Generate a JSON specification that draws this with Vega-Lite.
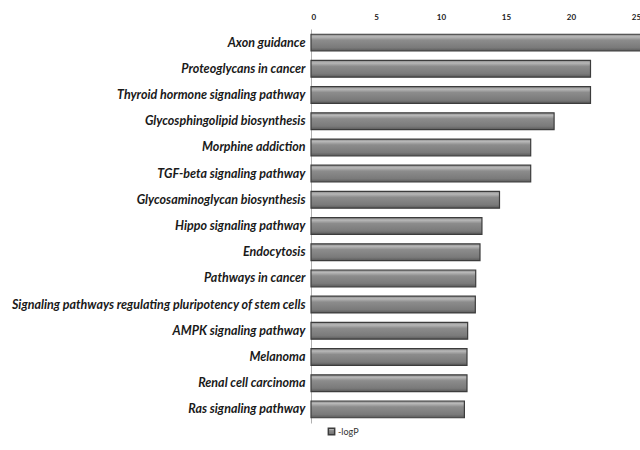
{
  "$schema": "https://vega.github.io/schema/vega-lite/v6.json",
  "autosize": "none",
  "width": 390,
  "height": 394,
  "padding": {"left": 311, "top": 29, "right": 0, "bottom": 27},
  "background": "white",
  "data": {
    "values": [
      {"pathway": "Axon guidance", "value": 27.0, "series": "-logP"},
      {"pathway": "Proteoglycans in cancer", "value": 21.5, "series": "-logP"},
      {"pathway": "Thyroid hormone signaling pathway", "value": 21.5, "series": "-logP"},
      {"pathway": "Glycosphingolipid biosynthesis", "value": 18.7, "series": "-logP"},
      {"pathway": "Morphine addiction", "value": 16.9, "series": "-logP"},
      {"pathway": "TGF-beta signaling pathway", "value": 16.9, "series": "-logP"},
      {"pathway": "Glycosaminoglycan biosynthesis", "value": 14.5, "series": "-logP"},
      {"pathway": "Hippo signaling pathway", "value": 13.15, "series": "-logP"},
      {"pathway": "Endocytosis", "value": 13.0, "series": "-logP"},
      {"pathway": "Pathways in cancer", "value": 12.67, "series": "-logP"},
      {"pathway": "Signaling pathways regulating pluripotency of stem cells", "value": 12.64, "series": "-logP"},
      {"pathway": "AMPK signaling pathway", "value": 12.05, "series": "-logP"},
      {"pathway": "Melanoma", "value": 12.0, "series": "-logP"},
      {"pathway": "Renal cell carcinoma", "value": 12.0, "series": "-logP"},
      {"pathway": "Ras signaling pathway", "value": 11.8, "series": "-logP"}
    ]
  },
  "mark": {
    "type": "bar",
    "fill": {
      "gradient": "linear",
      "x1": 0, "y1": 0, "x2": 0, "y2": 1,
      "stops": [
        {"offset": 0, "color": "#8a8a8a"},
        {"offset": 0.15, "color": "#b8b8b8"},
        {"offset": 0.35, "color": "#8c8c8c"},
        {"offset": 0.8, "color": "#7a7a7a"},
        {"offset": 1, "color": "#5a5a5a"}
      ]
    },
    "strokeWidth": 1.2,
    "fillOpacity": 1
  },
  "encoding": {
    "y": {
      "field": "pathway",
      "type": "nominal",
      "sort": null,
      "scale": {"paddingInner": 0.36, "paddingOuter": 0.2},
      "axis": {
        "title": null,
        "ticks": false,
        "domain": true,
        "domainColor": "#b0b0b0",
        "labelFont": "Lato",
        "labelFontStyle": "italic",
        "labelFontWeight": "bold",
        "labelFontSize": 12.5,
        "labelColor": "#1a1a1a",
        "labelPadding": 6,
        "labelLimit": 400
      }
    },
    "x": {
      "field": "value",
      "type": "quantitative",
      "scale": {"domain": [0, 30], "nice": false},
      "axis": {
        "orient": "top",
        "title": null,
        "values": [0, 5, 10, 15, 20, 25, 30],
        "grid": false,
        "ticks": false,
        "domain": false,
        "labelFont": "Lato",
        "labelFontWeight": "bold",
        "labelFontSize": 8,
        "labelColor": "#1a1a1a",
        "labelPadding": 8
      }
    },
    "stroke": {
      "field": "series",
      "type": "nominal",
      "scale": {"range": ["#3c3c3c"]},
      "legend": {
        "title": null,
        "orient": "none",
        "legendX": 16,
        "legendY": 398,
        "symbolType": "square",
        "symbolFillColor": "#808080",
        "symbolStrokeColor": "#3c3c3c",
        "symbolSize": 40,
        "labelFont": "Lato",
        "labelFontSize": 9,
        "labelColor": "#333333",
        "labelOffset": 2
      }
    }
  },
  "config": {"view": {"stroke": null}}
}
